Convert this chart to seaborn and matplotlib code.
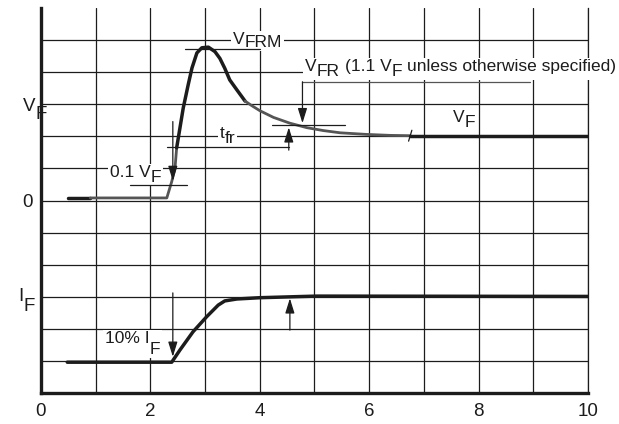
import matplotlib
matplotlib.use("Agg")
import matplotlib.pyplot as plt
import pandas as pd
import seaborn as sns
from matplotlib.patches import Rectangle
from matplotlib.transforms import IdentityTransform

# forward voltage waveform, in grid units (0 V sits on grid line 6)
v_time = [0.49, 0.90, 2.30, 2.39, 2.45, 2.48, 2.54, 2.60, 2.69, 2.76, 2.85, 2.94,
          3.06, 3.18, 3.27, 3.36, 3.45, 3.58, 3.73, 3.85, 4.00, 4.25, 4.55, 4.86,
          5.16, 5.47, 5.95, 6.38, 6.75, 10.0]
v_value = [6.08, 6.08, 6.08, 6.59, 7.01, 7.64, 8.26, 8.88, 9.60, 10.13, 10.60, 10.76,
           10.78, 10.64, 10.43, 10.12, 9.76, 9.45, 9.10, 8.96, 8.80, 8.59, 8.41, 8.27,
           8.18, 8.11, 8.06, 8.03, 8.02, 8.02]

# forward current waveform
i_time = [0.48, 2.39, 2.54, 2.78, 3.03, 3.24, 3.36, 3.58, 4.00, 4.61, 5.04, 10.0]
i_value = [0.96, 0.96, 1.34, 1.91, 2.38, 2.74, 2.87, 2.93, 2.97, 3.00, 3.02, 3.01]

x_ticks = [0, 2, 4, 6, 8, 10]

# annotation levels / times
vfrm_level = 10.72
vfr_level = 8.35
tenth_vf_level = 6.48
t_10 = 2.41
t_vfr = 4.53
tfr_end = 6.75
tfr_dim = 7.68
leader_level = 9.70
leader_x = 4.78

INK = "#1c1c1c"
GREY = "#555555"
FONT = ["Liberation Sans", "DejaVu Sans"]

sns.set_theme(style="white")
plt.rcParams["font.family"] = FONT

fig = plt.figure(figsize=(6.19, 4.24), dpi=100)
ax = fig.add_axes([41 / 619, 31 / 424, 547 / 619, 385 / 424])
ax.set_xlim(0, 10)
ax.set_ylim(0, 12)

# grid
ax.set_xticks(range(11))
ax.set_xticklabels([str(t) if t in x_ticks else "" for t in range(11)])
ax.set_yticks(range(1, 12))
ax.set_yticklabels([])
ax.grid(True, color=INK, linewidth=0.9)
ax.set_axisbelow(True)
ax.tick_params(length=0, pad=7, labelsize=13.5, colors=INK)
for s in ["left", "bottom"]:
    ax.spines[s].set_linewidth(2.4)
    ax.spines[s].set_color(INK)
ax.spines["top"].set_visible(False)
ax.spines["right"].set_linewidth(0.9)
ax.spines["right"].set_color(INK)

# curves
volt = pd.DataFrame({"t": v_time, "v": v_value})
curr = pd.DataFrame({"t": i_time, "v": i_value})
spans = [(0.49, 0.90, INK, 2.5), (0.90, 2.48, GREY, 2.0), (2.48, 3.73, INK, 2.5),
         (3.73, 6.75, GREY, 2.0), (6.75, 10.0, INK, 2.5)]
for a, b, c, w in spans:
    seg = volt[(volt["t"] >= a) & (volt["t"] <= b)]
    sns.lineplot(data=seg, x="t", y="v", color=c, linewidth=w, estimator=None,
                 sort=False, ax=ax, zorder=3.5, solid_joinstyle="round")
sns.lineplot(data=curr, x="t", y="v", color=INK, linewidth=2.5, estimator=None,
             sort=False, ax=ax, zorder=3.5, solid_joinstyle="round")
ax.set(xlabel="", ylabel="")

renderer = fig.canvas.get_renderer()


def text_width(s, size):
    t = ax.text(0, 0, s, fontsize=size, transform=IdentityTransform())
    w = t.get_window_extent(renderer).width
    t.remove()
    return w


def sub_label(x, y, parts, drop=5, size=12.5, box=True):
    """Write text with full-size subscripts dropped by `drop` pixels."""
    px, py = ax.transData.transform((x, y))
    space = text_width("a a", size) - text_width("aa", size)
    boxes = []
    for s, is_sub in parts:
        px += (len(s) - len(s.lstrip(" "))) * space
        t = ax.text(px, py - (drop if is_sub else 0), s.strip(" "), fontsize=size,
                    color=INK, ha="left", va="baseline", transform=IdentityTransform(),
                    zorder=3)
        bb = t.get_window_extent(renderer)
        boxes.append(bb)
        px += bb.width + (len(s) - len(s.rstrip(" "))) * space
    if box:
        x0 = min(b.x0 for b in boxes) - 2
        x1 = max(b.x1 for b in boxes) + 2
        y0 = min(b.y0 for b in boxes) - 1
        y1 = max(b.y1 for b in boxes) + 1
        ax.add_artist(Rectangle((x0, y0), x1 - x0, y1 - y0, facecolor="white",
                                edgecolor="none", transform=IdentityTransform(),
                                clip_on=False, zorder=2.9))


# axis labels on the left
sub_label(-0.33, 8.80, [("V", False), ("F", True)], drop=8, size=13.5, box=False)
ax.text(-0.15, 6, "0", ha="right", va="center_baseline", fontsize=13.5, color=INK)
sub_label(-0.42, 2.88, [("I", False), ("F", True)], drop=10, size=13.5, box=False)

# annotations
sub_label(3.51, 10.88, [("V", False), ("FRM", True)], drop=3)
sub_label(4.83, 10.05, [("V", False), ("FR", True), (" (1.1 V", False), ("F", True),
                        (" unless otherwise specified)", False)], drop=5)
sub_label(3.27, 7.95, [("t", False), ("fr", True)], drop=5)
sub_label(1.26, 6.73, [("0.1 V", False), ("F", True)], drop=5)
sub_label(7.53, 8.45, [("V", False), ("F", True)], drop=5)
sub_label(1.17, 1.56, [("10% I", False), ("F", True)], drop=11)

line_kw = dict(color=INK, linewidth=0.9, zorder=4)
arrow_kw = dict(arrowstyle="-|>,head_length=0.9,head_width=0.28", color=INK, lw=0.9,
                shrinkA=0, shrinkB=0, mutation_scale=10)

ax.plot([2.63, 4.00], [vfrm_level, vfrm_level], **line_kw)
ax.plot([leader_x, 8.94], [leader_level, leader_level], color=GREY, linewidth=0.9, zorder=4)
ax.annotate("", xy=(leader_x, 8.41), xytext=(leader_x, leader_level), arrowprops=arrow_kw, zorder=4)
ax.plot([4.22, 5.56], [vfr_level, vfr_level], **line_kw)
ax.annotate("", xy=(t_vfr, 8.28), xytext=(t_vfr, 7.57), arrowprops=arrow_kw, zorder=4)
ax.plot([2.30, t_vfr], [tfr_dim, tfr_dim], **line_kw)
ax.plot([tfr_end - 0.03, tfr_end + 0.03], [7.85, 8.19], **line_kw)
ax.annotate("", xy=(t_10, 6.61), xytext=(t_10, 8.46), arrowprops=arrow_kw, zorder=4)
ax.plot([1.63, 2.67], [tenth_vf_level, tenth_vf_level], **line_kw)
ax.annotate("", xy=(t_10, 1.13), xytext=(t_10, 3.12), arrowprops=arrow_kw, zorder=4)
ax.annotate("", xy=(4.55, 2.95), xytext=(4.55, 1.96), arrowprops=arrow_kw, zorder=4)

fig.savefig("out.png", dpi=100)
